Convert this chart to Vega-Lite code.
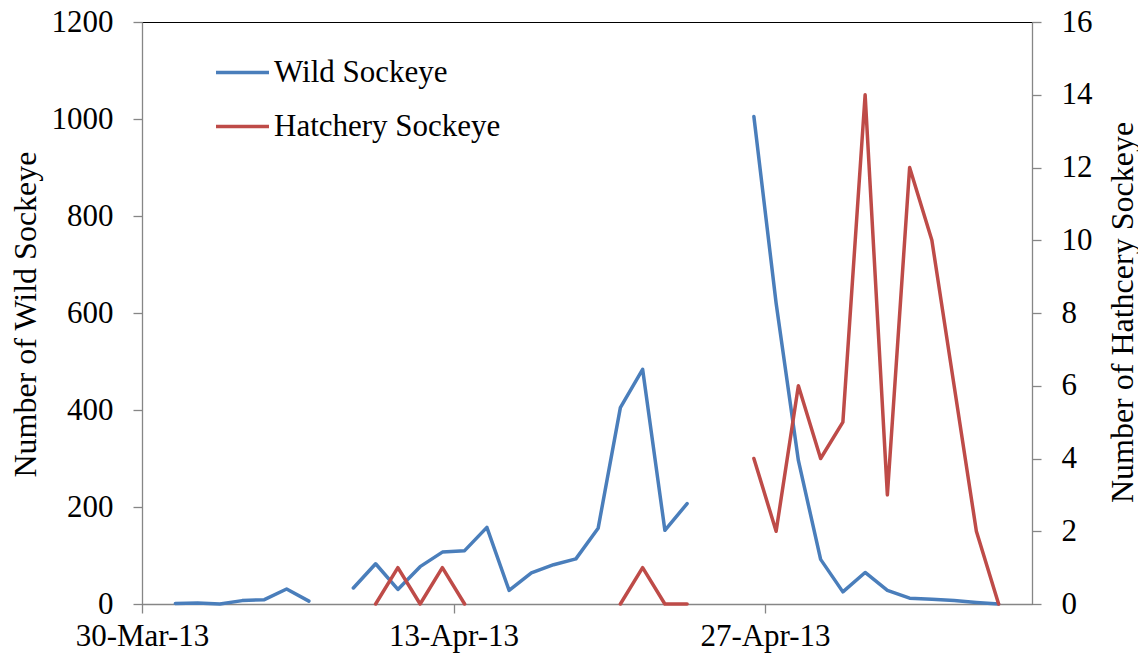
{
  "$schema": "https://vega.github.io/schema/vega-lite/v6.json",
  "width": 890,
  "height": 582,
  "autosize": {"type": "none"},
  "padding": {"left": 142, "top": 22, "right": 106, "bottom": 55},
  "background": "#ffffff",
  "config": {
    "view": {"stroke": "#000000", "strokeWidth": 1},
    "font": "Liberation Serif, Times New Roman, serif",
    "axis": {
      "labelFont": "Liberation Serif, Times New Roman, serif",
      "titleFont": "Liberation Serif, Times New Roman, serif",
      "labelColor": "#000000",
      "titleColor": "#000000",
      "titleFontWeight": "normal",
      "labelFontSize": 31,
      "titleFontSize": 32,
      "domainColor": "#868686",
      "domainWidth": 1.3,
      "tickColor": "#868686",
      "tickWidth": 1.3,
      "tickSize": 9,
      "grid": false
    },
    "legend": {
      "labelFont": "Liberation Serif, Times New Roman, serif"
    }
  },
  "data": {
    "values": [
      {"date": "2013-03-31T12:00:00", "wild": 1, "hatchery": null},
      {"date": "2013-04-01T12:00:00", "wild": 2, "hatchery": null},
      {"date": "2013-04-02T12:00:00", "wild": 0, "hatchery": null},
      {"date": "2013-04-03T12:00:00", "wild": 7, "hatchery": null},
      {"date": "2013-04-04T12:00:00", "wild": 9, "hatchery": null},
      {"date": "2013-04-05T12:00:00", "wild": 31, "hatchery": null},
      {"date": "2013-04-06T12:00:00", "wild": 6, "hatchery": null},
      {"date": "2013-04-07T12:00:00", "wild": null, "hatchery": null},
      {"date": "2013-04-08T12:00:00", "wild": 33, "hatchery": null},
      {"date": "2013-04-09T12:00:00", "wild": 83, "hatchery": 0},
      {"date": "2013-04-10T12:00:00", "wild": 30, "hatchery": 1},
      {"date": "2013-04-11T12:00:00", "wild": 77, "hatchery": 0},
      {"date": "2013-04-12T12:00:00", "wild": 107, "hatchery": 1},
      {"date": "2013-04-13T12:00:00", "wild": 110, "hatchery": 0},
      {"date": "2013-04-14T12:00:00", "wild": 158, "hatchery": null},
      {"date": "2013-04-15T12:00:00", "wild": 28, "hatchery": null},
      {"date": "2013-04-16T12:00:00", "wild": 64, "hatchery": null},
      {"date": "2013-04-17T12:00:00", "wild": 81, "hatchery": null},
      {"date": "2013-04-18T12:00:00", "wild": 93, "hatchery": null},
      {"date": "2013-04-19T12:00:00", "wild": 156, "hatchery": null},
      {"date": "2013-04-20T12:00:00", "wild": 405, "hatchery": 0},
      {"date": "2013-04-21T12:00:00", "wild": 484, "hatchery": 1},
      {"date": "2013-04-22T12:00:00", "wild": 152, "hatchery": 0},
      {"date": "2013-04-23T12:00:00", "wild": 207, "hatchery": 0},
      {"date": "2013-04-24T12:00:00", "wild": null, "hatchery": null},
      {"date": "2013-04-25T12:00:00", "wild": null, "hatchery": null},
      {"date": "2013-04-26T12:00:00", "wild": 1005, "hatchery": 4},
      {"date": "2013-04-27T12:00:00", "wild": 620, "hatchery": 2},
      {"date": "2013-04-28T12:00:00", "wild": 296, "hatchery": 6},
      {"date": "2013-04-29T12:00:00", "wild": 92, "hatchery": 4},
      {"date": "2013-04-30T12:00:00", "wild": 25, "hatchery": 5},
      {"date": "2013-05-01T12:00:00", "wild": 65, "hatchery": 14},
      {"date": "2013-05-02T12:00:00", "wild": 28, "hatchery": 3},
      {"date": "2013-05-03T12:00:00", "wild": 12, "hatchery": 12},
      {"date": "2013-05-04T12:00:00", "wild": 10, "hatchery": 10},
      {"date": "2013-05-05T12:00:00", "wild": 7, "hatchery": 6},
      {"date": "2013-05-06T12:00:00", "wild": 3, "hatchery": 2},
      {"date": "2013-05-07T12:00:00", "wild": 0, "hatchery": 0}
    ]
  },
  "encoding": {
    "x": {
      "field": "date",
      "type": "temporal",
      "scale": {
        "domain": [
          {"year": 2013, "month": 3, "date": 30},
          {"year": 2013, "month": 5, "date": 9}
        ]
      },
      "axis": {
        "title": null,
        "format": "%d-%b-%y",
        "values": [
          {"year": 2013, "month": 3, "date": 30},
          {"year": 2013, "month": 4, "date": 13},
          {"year": 2013, "month": 4, "date": 27}
        ],
        "labelPadding": 8,
        "labelAlign": "center",
        "labelFlush": false,
        "labelOverlap": false
      }
    }
  },
  "layer": [
    {
      "mark": {
        "type": "line",
        "strokeWidth": 3.5,
        "strokeCap": "round",
        "strokeJoin": "round",
        "invalid": "break-paths-show-domains"
      },
      "encoding": {
        "y": {
          "field": "wild",
          "type": "quantitative",
          "scale": {"domain": [0, 1200], "nice": false, "zero": true},
          "axis": {
            "title": "Number of Wild Sockeye",
            "orient": "left",
            "format": "d",
            "values": [0, 200, 400, 600, 800, 1000, 1200],
            "labelPadding": 20,
            "titleAngle": -90,
            "titleBaseline": "alphabetic",
            "titleAnchor": "middle",
            "titleAlign": "center",
            "titleX": -107,
            "titleY": 292
          }
        },
        "color": {
          "datum": "Wild Sockeye",
          "type": "nominal",
          "scale": {
            "domain": ["Wild Sockeye", "Hatchery Sockeye"],
            "range": ["#4A7EBB", "#BE4B48"]
          },
          "legend": {
            "title": null,
            "orient": "none",
            "legendX": 72,
            "legendY": 22,
            "padding": 0,
            "symbolType": "stroke",
            "symbolSize": 2809,
            "symbolStrokeWidth": 3.5,
            "labelFont": "Liberation Serif, Times New Roman, serif",
            "labelFontSize": 31,
            "labelColor": "#000000",
            "labelOffset": 3,
            "rowPadding": 10,
            "labelLimit": 400
          }
        }
      }
    },
    {
      "mark": {
        "type": "line",
        "strokeWidth": 3.5,
        "strokeCap": "round",
        "strokeJoin": "round",
        "invalid": "break-paths-show-domains"
      },
      "encoding": {
        "y": {
          "field": "hatchery",
          "type": "quantitative",
          "scale": {"domain": [0, 16], "nice": false, "zero": true},
          "axis": {
            "title": "Number of Hathcery Sockeye",
            "orient": "right",
            "format": "d",
            "values": [0, 2, 4, 6, 8, 10, 12, 14, 16],
            "labelPadding": 20,
            "titleAngle": -90,
            "titleBaseline": "alphabetic",
            "titleAnchor": "middle",
            "titleAlign": "center",
            "titleX": 100,
            "titleY": 290
          }
        },
        "color": {"datum": "Hatchery Sockeye", "type": "nominal"}
      }
    }
  ],
  "resolve": {"scale": {"y": "independent"}}
}
